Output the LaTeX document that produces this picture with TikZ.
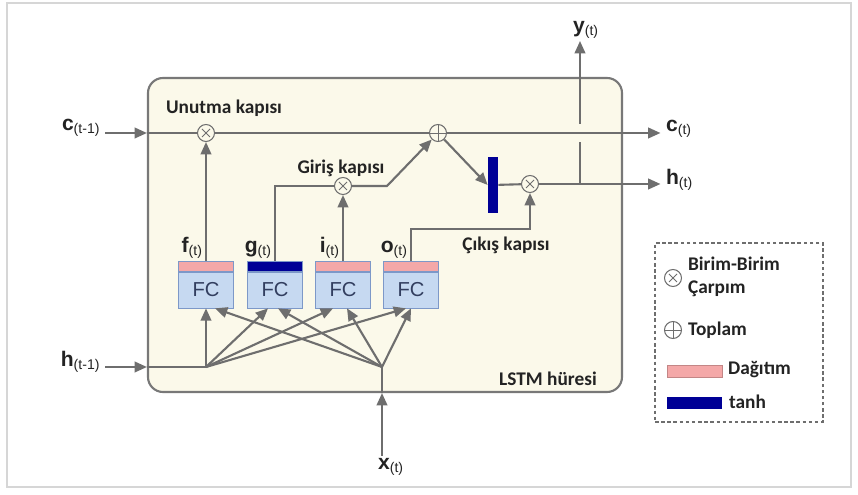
\documentclass[tikz,border=0pt]{standalone}
\usepackage{fontspec}
\setmainfont{Carlito}
\newfontfamily\varfont{Liberation Sans}
\definecolor{lsgray}{RGB}{110,110,110}
\definecolor{lscell}{RGB}{251,249,234}
\definecolor{lsborder}{RGB}{120,120,120}
\definecolor{lspink}{RGB}{244,168,168}
\definecolor{lsblue}{RGB}{198,217,241}
\definecolor{lsblueline}{RGB}{125,152,200}
\definecolor{lsnavy}{RGB}{0,0,150}
\definecolor{lsframe}{RGB}{214,214,214}
\definecolor{lstext}{RGB}{35,35,35}
\definecolor{lsfc}{RGB}{50,62,95}
\usetikzlibrary{arrows.meta,positioning,calc}
\newcommand{\vsub}[2]{{\varfont\bfseries #1}\textsubscript{\varfont(#2)}}

\begin{document}
\begin{tikzpicture}[
  every node/.style={inner sep=1pt},
  flow/.style={lsgray, line width=1.2pt},
  arr/.style={flow, -{Triangle[length=7pt,width=6pt]}},
  op/.style={circle, draw=lsgray, fill=lscell, line width=0.6pt,
             minimum size=0.34cm, inner sep=0pt},
  mulop/.style={op, path picture={\draw[lsgray, line width=0.5pt]
      ([shift={(-0.08,-0.08)}]path picture bounding box.center) -- ([shift={(0.08,0.08)}]path picture bounding box.center)
      ([shift={(-0.08,0.08)}]path picture bounding box.center) -- ([shift={(0.08,-0.08)}]path picture bounding box.center);}},
  sumop/.style={op, path picture={\draw[lsgray, line width=0.5pt]
      ([xshift=-0.17cm]path picture bounding box.center) -- ([xshift=0.17cm]path picture bounding box.center)
      ([yshift=-0.17cm]path picture bounding box.center) -- ([yshift=0.17cm]path picture bounding box.center);}},
  fcbox/.style={draw=lsblueline, fill=lsblue, minimum width=1.1cm, minimum height=0.72cm,
                inner sep=0pt, font=\varfont\fontsize{11.5}{13}\selectfont, text=lsfc},
  band/.style={draw=lsblueline, fill=#1, minimum width=1.1cm, minimum height=0.2cm, inner sep=0pt},
  gatelbl/.style={font=\fontsize{11}{13}\selectfont\bfseries, text=lstext},
  varlbl/.style={font=\fontsize{12}{14}\selectfont, text=lstext},
]
\useasboundingbox (0,0) rectangle (17.16,9.9);
\draw[lsframe, line width=1pt] (0.14,0.16) rectangle (17.02,9.84);

% === LSTM cell ===
\node[draw=lsborder, fill=lscell, rounded corners=0.3cm, line width=1.2pt,
      minimum width=9.48cm, minimum height=6.28cm] (cell) at (7.70,5.20) {};

% === Operators ===
\node[mulop] (fgt) at (4.12,7.24) {};
\node[sumop] (add) at (8.76,7.24) {};
\node[mulop] (inm) at (6.86,6.18) {};
\node[mulop] (outm) at (10.60,6.22) {};
\node[fill=lsnavy, minimum width=0.2cm, minimum height=1.12cm, inner sep=0pt] (tanhb) at (9.86,6.20) {};

% === FC layers ===
\node[fcbox] (fcf) at (4.12,4.10) {FC};
\node[fcbox] (fcg) at (5.50,4.10) {FC};
\node[fcbox] (fci) at (6.86,4.10) {FC};
\node[fcbox] (fco) at (8.22,4.10) {FC};
\node[band=lspink, above=0pt of fcf] (bf) {};
\node[band=lsnavy, above=0pt of fcg] (bg) {};
\node[band=lspink, above=0pt of fci] (bi) {};
\node[band=lspink, above=0pt of fco] (bo) {};

% gate outputs
\node[varlbl, anchor=south east] (lf) at ([xshift=-0.02cm]bf.north) {\vsub{f}{t}};
\node[varlbl, anchor=south east] (lg) at ([xshift=-0.02cm]bg.north) {\vsub{g}{t}};
\node[varlbl, anchor=south east] (li) at ([xshift=-0.02cm]bi.north) {\vsub{i}{t}};
\node[varlbl, anchor=south east] (lo) at ([xshift=-0.02cm]bo.north) {\vsub{o}{t}};

% === States in and out ===
\node[varlbl, anchor=east] (cprev) at (2.05,7.34) {\vsub{c}{t-1}};
\node[varlbl, anchor=east] (hprev) at (2.05,2.66) {\vsub{h}{t-1}};
\node[varlbl, anchor=west] (cnext) at (13.28,7.32) {\vsub{c}{t}};
\node[varlbl, anchor=west] (hnext) at (13.28,6.30) {\vsub{h}{t}};
\node[varlbl, anchor=south west] (yout) at (11.42,9.08) {\vsub{y}{t}};
\node[varlbl, anchor=north west] (xin) at (7.52,0.78) {\vsub{x}{t}};

\coordinate (cin) at (2.1,7.24);
\coordinate (hin) at (2.1,2.56);
\coordinate (hj) at (4.12,2.56);
\coordinate (xj) at (7.64,2.56);
\coordinate (ibend) at (7.74,6.18);
\coordinate (obend) at (10.60,5.32);
\coordinate (ysplit) at (11.6,6.22);
\coordinate (ygapb) at (11.6,7.06);
\coordinate (ygapt) at (11.6,7.42);

% === Arrows: cell state ===
\draw[arr] (cin) -- (cin -| cell.west);
\draw[flow] (cin -| cell.west) -- (fgt);
\draw[flow] (fgt) -- (add);
\draw[arr, shorten >=2pt] (add) -- (add -| cnext.west);

% === Arrows: gates ===
\draw[arr] (bf.north) -- (fgt);
\draw[flow] (bg.north) |- (inm);
\draw[arr] (bi.north) -- (inm);
\draw[arr] (inm) -- (ibend) -- (add);
\draw[arr] (add) -- (tanhb.west);
\draw[flow] (tanhb) -- (outm);
\draw[arr] (bo.north) |- (obend) -- (outm);

% === Arrows: outputs ===
\draw[arr, shorten >=2pt] (outm) -- (outm -| hnext.west);
\draw[flow] (ysplit) -- (ygapb);
\draw[arr] (ygapt) -- (ysplit |- yout.south);

% === Arrows: inputs ===
\draw[arr] (hin) -- (hin -| cell.west);
\draw[flow] (hin -| cell.west) -- (hj);
\draw[arr] (xj |- xin.north) -- (xj |- cell.south);
\draw[flow] (xj |- cell.south) -- (xj);
\foreach \b/\dx in {fcf/0, fcg/-0.14, fci/-0.2, fco/-0.1}
  \draw[arr] (hj) -- ([xshift=\dx cm]\b.south);
\foreach \b/\dx in {fcf/0.18, fcg/0.06, fci/0.08, fco/0}
  \draw[arr] (xj) -- ([xshift=\dx cm]\b.south);

% Labels
\node[gatelbl] (lforget) at (4.48,7.74) {Unutma kapısı};
\node[gatelbl] (linput) at (6.82,6.54) {Giriş kapısı};
\node[gatelbl] (loutput) at (10.12,5.0) {Çıkış kapısı};
\node[gatelbl] (lcell) at (10.96,2.32) {LSTM hüresi};

% === Legend ===
\node[draw=lsgray, dash pattern=on 2pt off 1.5pt, line width=0.7pt,
      minimum width=3.36cm, minimum height=3.58cm] (legend) at (14.78,3.25) {};
\node[mulop, fill=white] (lgmul) at (13.46,4.34) {};
\node[gatelbl, anchor=west, align=left] (lgmult) at (13.72,4.36) {Birim-Birim\\Çarpım};
\node[sumop, fill=white] (lgsum) at (13.46,3.30) {};
\node[gatelbl, anchor=west] (lgsumt) at (13.72,3.30) {Toplam};
\node[draw=lspink!80!black, fill=lspink, minimum width=1.1cm, minimum height=0.24cm, inner sep=0pt] (lgpink) at (13.89,2.48) {};
\node[gatelbl, anchor=west] (lgpinkt) at (14.52,2.50) {Dağıtım};
\node[fill=lsnavy, minimum width=1.1cm, minimum height=0.24cm, inner sep=0pt] (lgnavy) at (13.89,1.84) {};
\node[gatelbl, anchor=west] (lgnavyt) at (14.54,1.86) {tanh};

\end{tikzpicture}
\end{document}
